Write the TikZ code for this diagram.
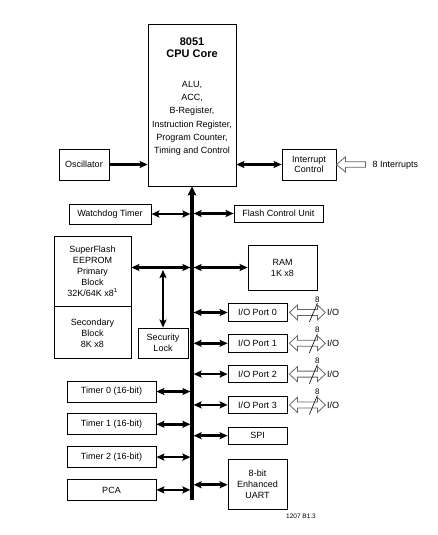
\documentclass[tikz,border=0pt]{standalone}
\usepackage{fontspec}
\setmainfont{Liberation Sans}
\usetikzlibrary{arrows.meta, positioning}

\begin{document}
\begin{tikzpicture}[x=1pt, y=-1pt, node distance=12pt,
    >={Stealth[length=8pt, width=7pt, inset=1.5pt]},
    blk/.style={draw, line width=0.8pt, inner sep=1pt, align=center,
                font=\fontsize{9}{11}\selectfont},
    link/.style={line width=2.6pt},
    bus/.style={line width=3.3pt, -{Stealth[length=9pt, width=8.5pt, inset=1.5pt]}},
    hollow/.style={draw=black!60, line width=0.8pt, fill=white, line join=miter},
    lbl/.style={inner sep=0.5pt, font=\fontsize{9}{11}\selectfont}]
  \useasboundingbox (0,0) rectangle (437,535);

  % CPU core
  \node[blk, minimum width=88pt, minimum height=162pt] (cpu) at (192,105) {};
  \node[inner sep=0pt, align=center, font=\fontsize{11}{12}\selectfont\bfseries,
        below=14.5pt of cpu.north] (cputitle) {8051\\CPU Core};
  \node[inner sep=0pt, align=center, font=\fontsize{9}{13.3}\selectfont,
        below=22.5pt of cputitle] (cpulist)
        {ALU,\\ACC,\\B-Register,\\Instruction Register,\\Program Counter,\\Timing and Control};

  % Oscillator and interrupts
  \node[blk, minimum width=50pt, minimum height=31pt] (osc) at (84,164.5) {Oscillator};
  \node[blk, minimum width=54pt, minimum height=31pt, font=\fontsize{9}{10.5}\selectfont]
        (intc) at (309,164.5) {Interrupt\\Control};
  \node[lbl, anchor=west] (intin) at (372,165) {8 Interrupts};
  \draw[link, ->] (osc.east) -- (osc.east -| cpu.west);
  \draw[link, <->] (intc.west -| cpu.east) -- (intc.west);
  \draw[hollow] (intc.east) -- ++(9,-7.5) -- ++(0,4.8) -- ++(20,0) -- ++(0,5.4)
    -- ++(-20,0) -- ++(0,4.8) -- cycle;

  % Internal bus
  \coordinate (busbot) at (192,500);
  \draw[bus] (busbot) -- (cpu.south);

  % Left side blocks
  \node[blk, minimum width=82pt, minimum height=20pt] (wdt) at (110,214) {Watchdog Timer};
  \node[blk, minimum width=77pt, minimum height=70pt] (prim) at (92.5,271)
        {SuperFlash\\EEPROM\\Primary\\Block\\32K/64K x8\textsuperscript{1}};
  \node[blk, minimum width=77pt, minimum height=52pt, below=0pt of prim] (sec)
        {Secondary\\Block\\8K x8};
  \node[blk, minimum width=50pt, minimum height=30pt] (seclock) at (163,343) {Security\\Lock};
  \node[blk, minimum width=89pt, minimum height=21pt] (t0) at (111.5,391.5) {Timer 0 (16-bit)};
  \node[blk, minimum width=89pt, minimum height=21pt, below=11pt of t0] (t1) {Timer 1 (16-bit)};
  \node[blk, minimum width=89pt, minimum height=21pt, below=11pt of t1] (t2) {Timer 2 (16-bit)};
  \node[blk, minimum width=89pt, minimum height=21pt, below=11pt of t2] (pca) {PCA};

  % Right side blocks
  \node[blk, minimum width=89pt, minimum height=17pt] (fcu) at (278.5,213.5) {Flash Control Unit};
  \node[blk, minimum width=69pt, minimum height=45pt] (ram) at (282.5,267.5) {RAM\\1K x8};
  \node[blk, minimum width=59pt, minimum height=17.5pt] (p0) at (257.5,312.5) {I/O Port 0};
  \node[blk, minimum width=59pt, minimum height=17.5pt, below=12.5pt of p0] (p1) {I/O Port 1};
  \node[blk, minimum width=59pt, minimum height=17.5pt, below=12.5pt of p1] (p2) {I/O Port 2};
  \node[blk, minimum width=59pt, minimum height=17.5pt, below=12.5pt of p2] (p3) {I/O Port 3};
  \node[blk, minimum width=59pt, minimum height=17.5pt, below=12.5pt of p3] (spi) {SPI};
  \node[blk, minimum width=59pt, minimum height=50pt, below=14.5pt of spi] (uart)
        {8-bit\\Enhanced\\UART};

  % Bus connections
  \foreach \b in {wdt, t0, t1, t2, pca}
    \draw[link, <->] (\b.east) -- ([xshift=-1.6pt]\b.east -| cpu.south);
  \foreach \b in {fcu, ram, p0, p1, p2, p3, spi, uart}
    \draw[link, <->] ([xshift=1.6pt]\b.west -| cpu.south) -- (\b.west);
  \draw[link, <->] (ram.west -| prim.east) -- ([xshift=-1.6pt]ram.west -| cpu.south);
  \draw[link, <->] ([yshift=-2.5pt]seclock.north |- ram.west) -- (seclock.north);

  % Port pins
  \foreach \p in {p0, p1, p2, p3}{
    \draw[hollow] ([xshift=2pt]\p.east) -- ++(8,-7.5) -- ++(0,4.5) -- ++(20,0) -- ++(0,-4.5)
      -- ++(8,7.5) -- ++(-8,7.5) -- ++(0,-4.5) -- ++(-20,0) -- ++(0,4.5) -- cycle;
    \draw[line width=0.6pt] ([xshift=22pt, yshift=-9.5pt]\p.east) -- ++(8,-19)
      node[above, inner sep=0.5pt, font=\fontsize{8}{9}\selectfont] (\p-w) {8};
    \node[lbl, anchor=west] (\p-io) at ([xshift=39pt]\p.east) {I/O};
  }

  \node[font=\fontsize{6.5}{7}\selectfont] (figid) at (301,516) {1207 B1.3};
\end{tikzpicture}
\end{document}
